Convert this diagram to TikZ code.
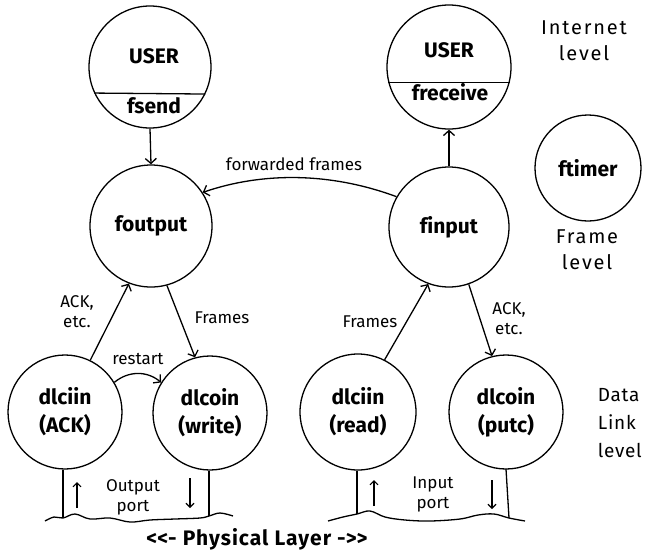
\documentclass[tikz,border=0pt]{standalone}
\usepackage{fontspec}
\setmainfont{Fira Sans}
\usetikzlibrary{arrows.meta}
\begin{document}
\begin{tikzpicture}[x=1pt,y=-1pt,
  proc/.style={circle, draw, line width=1.3pt, inner sep=0pt, align=center,
    font=\fontsize{21}{28}\selectfont\bfseries},
  ntext/.style={inner sep=0pt, anchor=base, font=\fontsize{21}{28}\selectfont\bfseries},
  lbl/.style={inner sep=0pt, align=center, font=\fontsize{17}{20}\selectfont},
  lvl/.style={inner sep=0pt, align=center, font=\fontsize{20}{26}\selectfont\addfontfeatures{LetterSpace=9}},
  wire/.style={line width=1.3pt},
  arr/.style={-{Straight Barb[length=5pt,width=11pt]}, line width=1.3pt},
  sarr/.style={-{Straight Barb[length=4pt,width=8pt]}, line width=1.1pt}]
\useasboundingbox (0,0) rectangle (645,550);

% circles
\node[proc, minimum size=122pt] (u1) at (150,67) {};
\node[proc, minimum size=124pt] (u2) at (449,67) {};
\node[proc, minimum size=122pt] (fo) at (151,226) {foutput};
\node[proc, minimum size=120pt] (fi) at (449,227) {f\kern0pt input};
\node[proc, minimum size=106pt] (ft) at (588,168) {ftimer};
\node[proc, minimum size=114pt] (d1) at (65,412) {dlciin\\(ACK)};
\node[proc, minimum size=114pt] (d2) at (210,413) {dlcoin\\(write)};
\node[proc, minimum size=116pt] (d3) at (358,412) {dlciin\\(read)};
\node[proc, minimum size=114pt] (d4) at (506,412) {dlcoin\\(putc)};

% USER texts and dividers
\node[ntext] (u1t) at (154,63) {USER};
\node[ntext] (u1b) at (154,113) {fsend};
\draw[wire] (u1.205.2) -- (u1.334.8);
\node[ntext] (u2t) at (449,57) {USER};
\node[ntext] (u2b) at (450,100) {freceive};
\draw[wire] (u2.194) -- (u2.346);

% level labels
\node[lvl] (lint) at (584,41) {Internet\\level};
\node[lvl] (lfr) at (587,250) {Frame\\level};
\node[lvl, align=left, anchor=east, font=\fontsize{19}{28}\selectfont\addfontfeatures{LetterSpace=4}] (ldl) at (642,423) {Data\\Link\\level};

% connectors
\draw[arr] (u1.south) -- (fo.north);
\draw[arr] (fi.north) -- (u2.south);
\draw[arr] (fi.150) .. controls (330,172) and (262,172) .. (fo.33);
\node[lbl] (lff) at (294,164) {forwarded frames};

\draw[arr] (d1.64) -- (fo.249);
\node[lbl] (lack1) at (77,312) {ACK,\\etc.};
\draw[arr] (fo.285) -- (d2.105);
\node[lbl] (lfr1) at (222,318) {Frames};
\draw[arr] (d1.31) to[bend left=40] (d2.148);
\node[lbl] (lrs) at (138,359) {restart};

\draw[arr] (d3.63) -- (fi.250);
\node[lbl] (lfr2) at (370,322) {Frames};
\draw[arr] (fi.289) -- (d4.104);
\node[lbl] (lack2) at (509,319) {ACK,\\etc.};

% ports
\coordinate (p1) at (63,518);
\coordinate (p2) at (209,516);
\coordinate (p3) at (357,514);
\coordinate (p4) at (509,518);
\draw[wire] (d1.south -| p1) -- (p1);
\draw[wire] (d2.south -| p2) -- (p2);
\draw[wire] (d3.south -| p3) -- (p3);
\draw[wire] (d4.center |- 0,469) -- (p4);

\draw[wire] plot[smooth, tension=0.6] coordinates {(45,521) (54,517) (63,518) (75,514) (90,519) (110,518) (130,522) (150,520) (175,519) (200,518) (209,516) (220,513) (233,516)};
\draw[wire] plot[smooth, tension=0.6] coordinates {(328,521) (343,517) (357,514) (370,511) (385,517) (405,520) (430,521) (460,519) (478,515) (494,514) (509,518) (525,521)};

\coordinate (a1s) at (77,508); \coordinate (a1e) at (77,482);
\coordinate (a2s) at (190,478); \coordinate (a2e) at (190,508);
\coordinate (a3s) at (374,506); \coordinate (a3e) at (374,480);
\coordinate (a4s) at (492,480); \coordinate (a4e) at (492,509);
\draw[sarr] (a1s) -- (a1e);
\draw[sarr] (a2s) -- (a2e);
\draw[sarr] (a3s) -- (a3e);
\draw[sarr] (a4s) -- (a4e);

\node[lbl] (lop) at (133,497) {Output\\port};
\node[lbl] (lip) at (433,494) {Input\\port};

\node[ntext, anchor=center, font=\fontsize{21}{28}\selectfont\bfseries\addfontfeatures{LetterSpace=5}] (lphy) at (257,539) {<\kern0pt<\kern0pt- Physical Layer -\kern0pt>\kern0pt>};
\end{tikzpicture}
\end{document}
